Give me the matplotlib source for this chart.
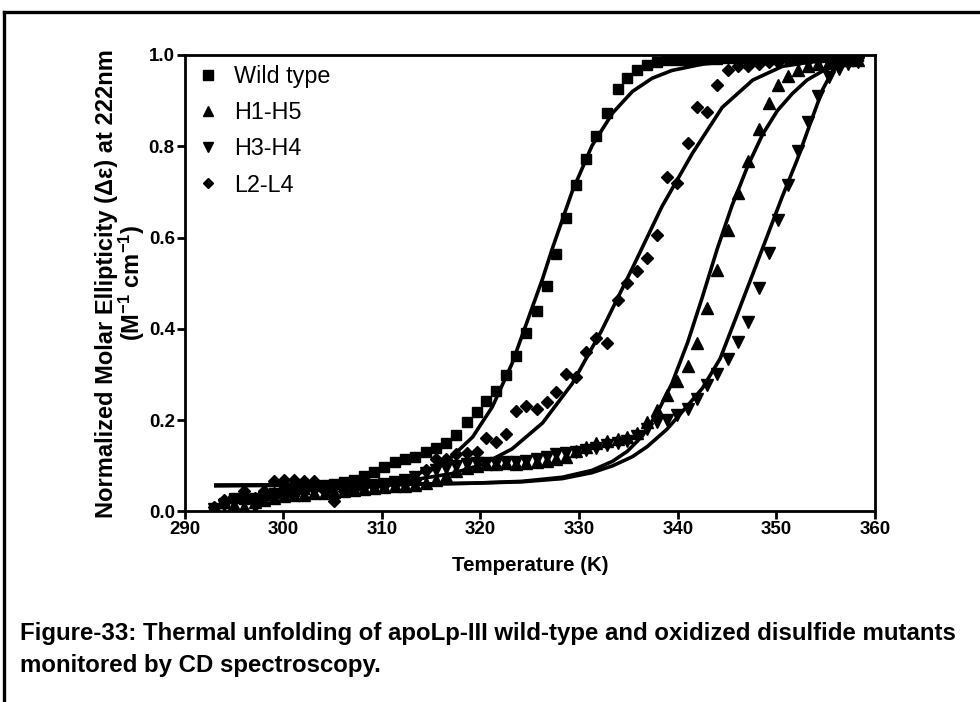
import matplotlib
matplotlib.use("Agg")
import matplotlib.pyplot as plt
from matplotlib.lines import Line2D

plt.rcParams['font.family'] = ['Liberation Sans', 'DejaVu Sans']
plt.rcParams['mathtext.fontset'] = 'custom'
plt.rcParams['mathtext.rm'] = 'Liberation Sans:bold'
plt.rcParams['mathtext.bf'] = 'Liberation Sans:bold'
plt.rcParams['mathtext.default'] = 'bf'

# temperatures (K) of the measured points, shared by all four samples
temps = [293.0, 294.0, 295.0, 296.0, 297.1, 298.1, 299.1, 300.1, 301.1, 302.1,
         303.1, 304.2, 305.2, 306.2, 307.2, 308.2, 309.2, 310.2, 311.3, 312.3,
         313.4, 314.5, 315.5, 316.5, 317.5, 318.6, 319.6, 320.6, 321.6, 322.6,
         323.6, 324.6, 325.7, 326.7, 327.7, 328.7, 329.7, 330.7, 331.7, 332.8,
         333.9, 334.9, 335.9, 336.9, 337.9, 338.9, 339.9, 341.0, 342.0, 343.0, 344.0,
         345.1, 346.1, 347.1, 348.2, 349.2, 350.2, 351.2, 352.2, 353.2, 354.2,
         355.3, 356.3, 357.3, 358.3]

wild_type = [0.0, 0.019, 0.029, 0.028, 0.03, 0.035, 0.04, 0.042, 0.045, 0.05,
             0.055, 0.058, 0.06, 0.065, 0.07, 0.078, 0.087, 0.098, 0.109, 0.115,
             0.12, 0.131, 0.14, 0.15, 0.168, 0.195, 0.218, 0.243, 0.265, 0.298,
             0.341, 0.39, 0.44, 0.494, 0.563, 0.642, 0.715, 0.773, 0.822, 0.873,
             0.925, 0.95, 0.966, 0.978, 0.985, 0.988, 0.99, 0.99, 0.99, 0.992, 0.992,
             0.993, 0.993, 0.994, 0.994, 0.995, 0.995, 0.995, 0.995, 0.995, 0.996,
             0.996, 0.996, 0.997, 0.997]

h1_h5 = [0.0, 0.02, 0.015, 0.01, 0.02, 0.025, 0.03, 0.033, 0.035, 0.037,
         0.04, 0.04, 0.042, 0.045, 0.048, 0.05, 0.052, 0.054, 0.055, 0.056,
         0.058, 0.062, 0.068, 0.078, 0.088, 0.095, 0.1, 0.103, 0.105, 0.107,
         0.105, 0.106, 0.108, 0.11, 0.114, 0.12, 0.132, 0.142, 0.15, 0.155,
         0.158, 0.163, 0.172, 0.195, 0.222, 0.255, 0.285, 0.318, 0.37, 0.445, 0.528,
         0.617, 0.698, 0.768, 0.838, 0.894, 0.935, 0.955, 0.966, 0.975, 0.98,
         0.985, 0.99, 0.99, 0.99]

h3_h4 = [0.005, 0.015, 0.02, 0.025, 0.01, 0.03, 0.035, 0.038, 0.04, 0.042,
         0.045, 0.047, 0.05, 0.05, 0.052, 0.055, 0.058, 0.06, 0.065, 0.07,
         0.075, 0.085, 0.09, 0.095, 0.1, 0.104, 0.106, 0.107, 0.107, 0.108,
         0.108, 0.11, 0.115, 0.12, 0.125, 0.128, 0.13, 0.135, 0.14, 0.145,
         0.15, 0.155, 0.165, 0.18, 0.195, 0.2, 0.212, 0.225, 0.247, 0.276, 0.302,
         0.335, 0.372, 0.416, 0.489, 0.566, 0.639, 0.716, 0.79, 0.853, 0.91,
         0.951, 0.97, 0.98, 0.985]

l2_l4 = [0.01, 0.025, 0.004, 0.045, 0.03, 0.045, 0.067, 0.068, 0.068, 0.067,
         0.067, 0.045, 0.023, 0.045, 0.05, 0.055, 0.055, 0.058, 0.06, 0.062,
         0.07, 0.09, 0.114, 0.115, 0.126, 0.128, 0.13, 0.162, 0.153, 0.17,
         0.221, 0.232, 0.225, 0.239, 0.261, 0.302, 0.294, 0.35, 0.379, 0.368,
         0.463, 0.5, 0.526, 0.555, 0.606, 0.733, 0.72, 0.808, 0.885, 0.874, 0.935,
         0.968, 0.975, 0.975, 0.98, 0.985, 0.985, 0.988, 0.99, 0.99, 0.992,
         0.99, 0.995, 0.995, 0.995]

# fitted sigmoid curves
wt_fit_t = [293.0, 298.9, 304.0, 307.0, 309.0, 311.1, 313.1, 315.1, 317.1, 319.2,
            321.2, 323.2, 325.2, 326.3, 327.3, 329.3, 331.3, 333.4, 335.4, 337.4,
            339.4, 342.5, 345.5, 349.6, 358.2]
wt_fit_y = [0.057, 0.057, 0.059, 0.061, 0.064, 0.069, 0.078, 0.094, 0.12, 0.163,
            0.229, 0.324, 0.444, 0.51, 0.577, 0.701, 0.801, 0.873, 0.92, 0.949,
            0.966, 0.98, 0.986, 0.989, 0.99]

l2_fit_t = [293.0, 298.9, 304.0, 309.0, 313.1, 317.1, 320.2, 323.2, 326.3, 329.3,
            332.3, 335.4, 338.4, 341.5, 344.5, 347.6, 350.6, 353.6, 358.2]
l2_fit_y = [0.057, 0.058, 0.059, 0.062, 0.069, 0.083, 0.103, 0.137, 0.194, 0.28,
            0.397, 0.533, 0.668, 0.785, 0.885, 0.945, 0.975, 0.985, 0.99]

h1_fit_t = [293.0, 304.0, 314.1, 319.2, 324.2, 328.3, 331.3, 333.4, 334.9, 336.4,
            337.9, 339.4, 341.0, 342.5, 344.0, 345.5, 347.1, 348.6, 350.1, 351.6,
            353.1, 354.7, 356.7, 358.2]
h1_fit_y = [0.057, 0.058, 0.06, 0.062, 0.066, 0.075, 0.09, 0.11, 0.132, 0.165,
            0.215, 0.28, 0.37, 0.47, 0.575, 0.67, 0.757, 0.826, 0.878, 0.915,
            0.945, 0.965, 0.98, 0.986]

h3_fit_t = [293.0, 304.0, 314.1, 319.2, 324.2, 328.3, 331.3, 333.4, 335.4, 336.9,
            338.9, 341.0, 342.5, 344.3, 346.0, 347.6, 349.1, 350.6, 352.1, 353.6,
            354.7, 355.7, 356.7, 358.2]
h3_fit_y = [0.057, 0.058, 0.06, 0.062, 0.065, 0.072, 0.085, 0.1, 0.12, 0.142,
            0.18, 0.232, 0.27, 0.335, 0.43, 0.52, 0.605, 0.69, 0.77, 0.86, 0.925,
            0.965, 0.982, 0.988]

fig = plt.figure(figsize=(9.8, 7.02), dpi=100)
ax = fig.add_axes([0.1883, 0.2714, 0.7046, 0.6503])

for t, y in [(wt_fit_t, wt_fit_y), (l2_fit_t, l2_fit_y),
             (h1_fit_t, h1_fit_y), (h3_fit_t, h3_fit_y)]:
    ax.plot(t, y, color="black", linewidth=2.6, solid_capstyle="butt", zorder=3)

ax.plot(temps, wild_type, linestyle="none", marker="s", ms=7.4, color="black", zorder=4)
ax.plot(temps, h1_h5, linestyle="none", marker="^", ms=8, color="black", zorder=4)
ax.plot(temps, h3_h4, linestyle="none", marker="v", ms=8, color="black", zorder=4)
ax.plot(temps, l2_l4, linestyle="none", marker="D", ms=6, color="black", zorder=4)

ax.set_xlim(290, 360)
ax.set_ylim(0.0, 1.0)
ax.set_xticks([290, 300, 310, 320, 330, 340, 350, 360])
ax.set_yticks([0.0, 0.2, 0.4, 0.6, 0.8, 1.0])
ax.set_yticklabels(["0.0", "0.2", "0.4", "0.6", "0.8", "1.0"])
ax.tick_params(direction="out", length=5.5, width=2, labelsize=13.5, pad=1.5)
for lab in ax.get_xticklabels() + ax.get_yticklabels():
    lab.set_fontweight("bold")
for sp in ax.spines.values():
    sp.set_linewidth(2)

ax.set_xlabel("Temperature (K)", fontsize=14.8, fontweight="bold", labelpad=13)
ax.set_ylabel("Normalized Molar Ellipticity (\u0394\u03b5) at 222nm\n(M$^{-1}$ cm$^{-1}$)",
              fontsize=17, fontweight="bold", labelpad=1.5, linespacing=0.95)

handles = [Line2D([], [], linestyle="none", marker="s", ms=7, color="black"),
           Line2D([], [], linestyle="none", marker="^", ms=7.5, color="black"),
           Line2D([], [], linestyle="none", marker="v", ms=7.5, color="black"),
           Line2D([], [], linestyle="none", marker="D", ms=5.5, color="black")]
ax.legend(handles, ["Wild type", "H1-H5", "H3-H4", "L2-L4"], loc="upper left",
          bbox_to_anchor=(0.0087, 0.99), frameon=False, fontsize=16.8,
          handlelength=1.0, handletextpad=0.6, labelspacing=0.56,
          borderaxespad=0.0, borderpad=0.25)

fig.text(0.02, 0.0969, "Figure-33: Thermal unfolding of apoLp-III wild-type and oxidized disulfide mutants",
         fontsize=17.3, fontweight="bold", ha="left", va="center")
fig.text(0.02, 0.0513, "monitored by CD spectroscopy.",
         fontsize=17.3, fontweight="bold", ha="left", va="center")

# page frame
fig.add_artist(Line2D([0.004, 1.0], [0.983, 0.983], color="black", linewidth=2.4))
fig.add_artist(Line2D([0.004, 0.004], [0.0, 0.983], color="black", linewidth=2.4))

fig.savefig("out.png", dpi=100)
